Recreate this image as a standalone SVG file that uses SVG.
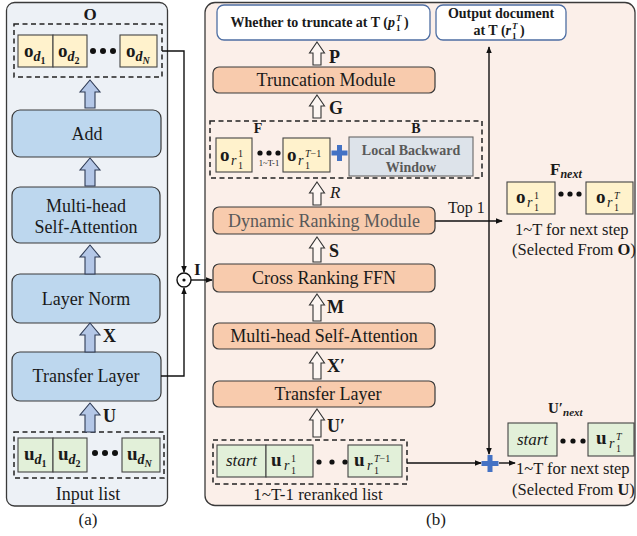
<svg xmlns="http://www.w3.org/2000/svg" width="637" height="536" viewBox="0 0 637 536">
<style>
text{font-family:"Liberation Serif","Times New Roman",serif;fill:#1a1a1a}
.lbl{font-size:18px;text-anchor:middle}
.gray{fill:#595959}
.b{font-weight:bold}
.i{font-style:italic}
.mb{font-size:19px;font-weight:bold}
.mi{font-size:14px;font-style:italic}
.ms{font-size:10px}
.boxa{fill:#bdd7ee;stroke:#3a3a3a;stroke-width:1.2}
.boxb{fill:#f8cbad;stroke:#3a3a3a;stroke-width:1.2}
.wbox{fill:#ffffff;stroke:#4e6ea3;stroke-width:1.3}
.dash{fill:none;stroke:#222;stroke-width:1.5;stroke-dasharray:5 3.5}
.cy{fill:#fff2cc;stroke:#444;stroke-width:1.1}
.cg{fill:#e2f0d9;stroke:#444;stroke-width:1.1}
.arrA{fill:#b4c7e7;stroke:#2f3b55;stroke-width:1.1}
.arrB{fill:#fdf6f2;stroke:#333;stroke-width:1.1}
.ln{fill:none;stroke:#111;stroke-width:1.4}
.plus{fill:#4472c4}
.dot{fill:#111}
</style>
<defs>
<marker id="ah" viewBox="0 0 8 8" refX="7" refY="4" markerWidth="7" markerHeight="7" markerUnits="userSpaceOnUse" orient="auto">
<path d="M0,0.8 L8,4 L0,7.2 Z" fill="#111"/>
</marker>
</defs>

<!-- Panel (a) -->
<g id="panel-a">
<rect x="6.5" y="2.5" width="161" height="503.5" rx="8" fill="#edf1f6" stroke="#3a3a3a" stroke-width="1.3"/>
<text x="90" y="20" class="b" font-size="17" text-anchor="middle">O</text>
<rect x="14" y="24" width="148" height="53" class="dash"/>
<text x="88" y="500" font-size="18" text-anchor="middle">Input list</text>
</g>
<g id="cells-O">
<rect x="18" y="35" width="35" height="32" class="cy"/>
<rect x="53" y="35" width="34" height="32" class="cy"/>
<rect x="120" y="35" width="37" height="32" class="cy"/>
<text x="24" y="57" class="mb">o<tspan class="mi" dy="4">d</tspan><tspan class="ms" dy="3">1</tspan></text>
<text x="58" y="57" class="mb">o<tspan class="mi" dy="4">d</tspan><tspan class="ms" dy="3">2</tspan></text>
<text x="126" y="57" class="mb">o<tspan class="mi" dy="4">d</tspan><tspan class="ms i" dy="3">N</tspan></text>
<circle cx="93" cy="51" r="3" class="dot"/><circle cx="103" cy="51" r="3" class="dot"/><circle cx="113" cy="51" r="3" class="dot"/>
</g>
<g id="node-add"><rect x="12" y="110" width="149" height="47" rx="8" class="boxa"/><text x="87" y="140" class="lbl">Add</text></g>
<g id="node-mhsa-a"><rect x="12" y="187" width="148" height="56" rx="8" class="boxa"/><text x="86" y="212" class="lbl">Multi-head</text><text x="86" y="233" class="lbl">Self-Attention</text></g>
<g id="node-ln"><rect x="12" y="274" width="148" height="49" rx="8" class="boxa"/><text x="86" y="305" class="lbl">Layer Norm</text></g>
<g id="node-transfer-a"><rect x="12" y="352" width="149" height="49" rx="8" class="boxa"/><text x="86" y="382" class="lbl">Transfer Layer</text></g>
<g id="cells-U">
<rect x="14" y="432" width="150" height="46" class="dash"/>
<rect x="18" y="438" width="35" height="34" class="cg"/>
<rect x="53" y="438" width="34" height="34" class="cg"/>
<rect x="122" y="438" width="38" height="34" class="cg"/>
<text x="24" y="460" class="mb">u<tspan class="mi" dy="4">d</tspan><tspan class="ms" dy="3">1</tspan></text>
<text x="58" y="460" class="mb">u<tspan class="mi" dy="4">d</tspan><tspan class="ms" dy="3">2</tspan></text>
<text x="127" y="460" class="mb">u<tspan class="mi" dy="4">d</tspan><tspan class="ms i" dy="3">N</tspan></text>
<circle cx="95" cy="453" r="3" class="dot"/><circle cx="105" cy="453" r="3" class="dot"/><circle cx="115" cy="453" r="3" class="dot"/>
</g>
<g id="arrows-a">
<path d="M90,80 L100,92 L95,92 L95,108 L85,108 L85,92 L80,92 Z" class="arrA"/>
<path d="M90,158 L100,170 L95,170 L95,186 L85,186 L85,170 L80,170 Z" class="arrA"/>
<path d="M90,245 L100,257 L95,257 L95,274 L85,274 L85,257 L80,257 Z" class="arrA"/>
<path d="M90,323 L100,335 L95,335 L95,352 L85,352 L85,335 L80,335 Z" class="arrA"/>
<path d="M90,403 L100,415 L95,415 L95,432 L85,432 L85,415 L80,415 Z" class="arrA"/>
<text x="103" y="342" class="b" font-size="18">X</text>
<text x="103" y="422" class="b" font-size="18">U</text>
</g>
<text x="88" y="525" font-size="17" text-anchor="middle">(a)</text>

<!-- Panel (b) -->
<g id="panel-b">
<rect x="205" y="2.5" width="430" height="503" rx="10" fill="#fbefe9" stroke="#3a3a3a" stroke-width="1.3"/>
</g>
<g id="node-whether">
<rect x="217" y="5" width="213" height="35" rx="7" class="wbox"/>
<text x="395" y="27" class="b" font-size="14" text-anchor="end">Whether to truncate at T (<tspan class="i">p</tspan></text>
<text x="396" y="21" class="b i" font-size="9">T</text>
<text x="396" y="31" class="b" font-size="9">1</text>
<text x="404" y="27" class="b" font-size="14">)</text>
</g>
<g id="node-output">
<rect x="436" y="5" width="130" height="35" rx="7" class="wbox"/>
<text x="501" y="18" class="b" font-size="14" text-anchor="middle">Output document</text>
<text x="511" y="35" class="b" font-size="14" text-anchor="end">at T (<tspan class="i">r</tspan></text>
<text x="512" y="29" class="b i" font-size="9">T</text>
<text x="512" y="39" class="b" font-size="9">1</text>
<text x="520" y="35" class="b" font-size="14">)</text>
</g>
<g id="node-truncation"><rect x="213" y="67" width="222" height="26" rx="6" class="boxb"/><text x="326" y="86" class="lbl" font-size="19">Truncation Module</text></g>
<g id="node-FB">
<rect x="210" y="121" width="272" height="57" class="dash"/>
<text x="258" y="133" class="b" font-size="14" text-anchor="middle">F</text>
<text x="416" y="133" class="b" font-size="14" text-anchor="middle">B</text>
<rect x="216" y="138" width="36" height="34" class="cy"/>
<rect x="283" y="138" width="47" height="34" class="cy"/>
<text x="220" y="161" class="mb">o</text><text x="231" y="165" class="mi">r</text><text x="238" y="157" class="ms">1</text><text x="238" y="169" class="ms">1</text>
<text x="287" y="161" class="mb">o</text><text x="298" y="165" class="mi">r</text><text x="305" y="157" class="ms"><tspan class="i">T</tspan>−1</text><text x="305" y="169" class="ms">1</text>
<circle cx="260" cy="153" r="2.6" class="dot"/><circle cx="269" cy="153" r="2.6" class="dot"/><circle cx="278" cy="153" r="2.6" class="dot"/>
<text x="269" y="166" font-size="8.5" text-anchor="middle">1~T-1</text>
<path d="M337,145 h5 v5.5 h5.5 v5 h-5.5 v5.5 h-5 v-5.5 h-5.5 v-5 h5.5 Z" class="plus"/>
<rect x="349" y="137" width="124" height="39" fill="#dde3ea" stroke="#666" stroke-width="1.1"/>
<text x="411" y="155" class="b gray" font-size="14" text-anchor="middle">Local Backward</text>
<text x="411" y="172" class="b gray" font-size="14" text-anchor="middle">Window</text>
</g>
<g id="node-dynamic"><rect x="213" y="207" width="222" height="27" rx="6" class="boxb"/><text x="324" y="227" class="lbl gray" font-size="19">Dynamic Ranking Module</text></g>
<g id="node-crossffn"><rect x="213" y="264" width="222" height="28" rx="6" class="boxb"/><text x="324" y="284" class="lbl" font-size="19">Cross Ranking FFN</text></g>
<g id="node-mhsa-b"><rect x="213" y="323" width="222" height="26" rx="6" class="boxb"/><text x="324" y="342" class="lbl" font-size="19">Multi-head Self-Attention</text></g>
<g id="node-transfer-b"><rect x="213" y="381" width="222" height="26" rx="6" class="boxb"/><text x="328" y="400" class="lbl" font-size="19">Transfer Layer</text></g>
<g id="node-reranked">
<rect x="213" y="440" width="194" height="44" class="dash"/>
<rect x="217" y="445" width="49" height="32" class="cg"/>
<rect x="266" y="445" width="47" height="32" class="cg"/>
<rect x="348" y="445" width="54" height="32" class="cg"/>
<text x="241.5" y="466" class="i" font-size="17" text-anchor="middle">start</text>
<text x="271" y="466" class="mb">u</text><text x="284" y="470" class="mi">r</text><text x="291" y="462" class="ms">1</text><text x="291" y="474" class="ms">1</text>
<text x="354" y="466" class="mb">u</text><text x="367" y="470" class="mi">r</text><text x="374" y="462" class="ms"><tspan class="i">T</tspan>−1</text><text x="374" y="474" class="ms">1</text>
<circle cx="319" cy="462" r="2.6" class="dot"/><circle cx="332" cy="462" r="2.6" class="dot"/><circle cx="345" cy="462" r="2.6" class="dot"/>
<text x="318" y="500" font-size="17" text-anchor="middle">1~T-1 reranked list</text>
</g>
<g id="arrows-b">
<path d="M317,42 L324.5,53 L321,53 L321,65 L313,65 L313,53 L309.5,53 Z" class="arrB"/>
<path d="M317,95 L324.5,106 L321,106 L321,118 L313,118 L313,106 L309.5,106 Z" class="arrB"/>
<path d="M317,182 L324.5,193 L321,193 L321,205 L313,205 L313,193 L309.5,193 Z" class="arrB"/>
<path d="M317,237 L324.5,248 L321,248 L321,262 L313,262 L313,248 L309.5,248 Z" class="arrB"/>
<path d="M317,294 L324.5,305 L321,305 L321,321 L313,321 L313,305 L309.5,305 Z" class="arrB"/>
<path d="M317,352 L324.5,363 L321,363 L321,379 L313,379 L313,363 L309.5,363 Z" class="arrB"/>
<path d="M317,409 L324.5,420 L321,420 L321,437 L313,437 L313,420 L309.5,420 Z" class="arrB"/>
<text x="329" y="63" class="b" font-size="18">P</text>
<text x="329" y="114" class="b" font-size="18">G</text>
<text x="330" y="198" class="i" font-size="17">R</text>
<text x="329" y="257" class="b" font-size="18">S</text>
<text x="327" y="313" class="b" font-size="18">M</text>
<text x="327" y="372" class="b" font-size="18">X′</text>
<text x="327" y="432" class="b" font-size="18">U′</text>
</g>
<g id="node-Fnext">
<text x="550" y="175" class="b" font-size="17">F<tspan class="i" font-size="12" dy="3">next</tspan></text>
<rect x="507" y="182" width="48" height="32" class="cy"/>
<rect x="586" y="182" width="47" height="32" class="cy"/>
<text x="516" y="203" class="mb">o</text><text x="527" y="207" class="mi">r</text><text x="534" y="199" class="ms">1</text><text x="534" y="211" class="ms">1</text>
<text x="596" y="203" class="mb">o</text><text x="607" y="207" class="mi">r</text><text x="614" y="199" class="ms i">T</text><text x="614" y="211" class="ms">1</text>
<circle cx="561" cy="194" r="2.6" class="dot"/><circle cx="570" cy="194" r="2.6" class="dot"/><circle cx="579" cy="194" r="2.6" class="dot"/>
<text x="515" y="235" font-size="16.5">1~T for next step</text>
<text x="512" y="255" font-size="16.5">(Selected From <tspan class="b">O</tspan>)</text>
</g>
<g id="node-Unext">
<text x="548" y="413" class="b" font-size="15">U′<tspan class="i" font-size="11" dy="3">next</tspan></text>
<rect x="508" y="423" width="49" height="33" class="cg"/>
<rect x="588" y="423" width="46" height="33" class="cg"/>
<text x="532.5" y="445" class="i" font-size="17" text-anchor="middle">start</text>
<text x="596" y="444" class="mb">u</text><text x="609" y="448" class="mi">r</text><text x="616" y="440" class="ms i">T</text><text x="616" y="452" class="ms">1</text>
<circle cx="563" cy="441" r="2.6" class="dot"/><circle cx="573" cy="441" r="2.6" class="dot"/><circle cx="583" cy="441" r="2.6" class="dot"/>
<text x="516" y="474" font-size="16.5">1~T for next step</text>
<text x="512" y="495" font-size="16.5">(Selected From <tspan class="b">U</tspan>)</text>
</g>
<g id="node-plus"><path d="M487.5,455 h5 v6 h6 v5 h-6 v6 h-5 v-6 h-6 v-5 h6 Z" class="plus"/></g>
<g id="node-odot"><circle cx="184" cy="280" r="7" fill="#fff" stroke="#111" stroke-width="1.4"/><circle cx="184" cy="280" r="1.6" fill="#111"/><text x="194" y="275" class="b" font-size="17">I</text></g>

<g id="connectors">
<path d="M162,51 H184 V272" class="ln" marker-end="url(#ah)"/>
<path d="M161,376 H184 V288" class="ln" marker-end="url(#ah)"/>
<path d="M191,280 H212" class="ln" marker-end="url(#ah)"/>
<path d="M435,221 H502" class="ln" marker-end="url(#ah)"/>
<path d="M489,221 V47" class="ln" marker-end="url(#ah)"/>
<path d="M489,221 V454" class="ln" marker-end="url(#ah)"/>
<path d="M407,463 H481" class="ln" marker-end="url(#ah)"/>
<path d="M499,463 H515" class="ln" marker-end="url(#ah)"/>
<text x="448" y="213" font-size="16">Top 1</text>
</g>
<text x="436" y="525" font-size="17" text-anchor="middle">(b)</text>
</svg>
